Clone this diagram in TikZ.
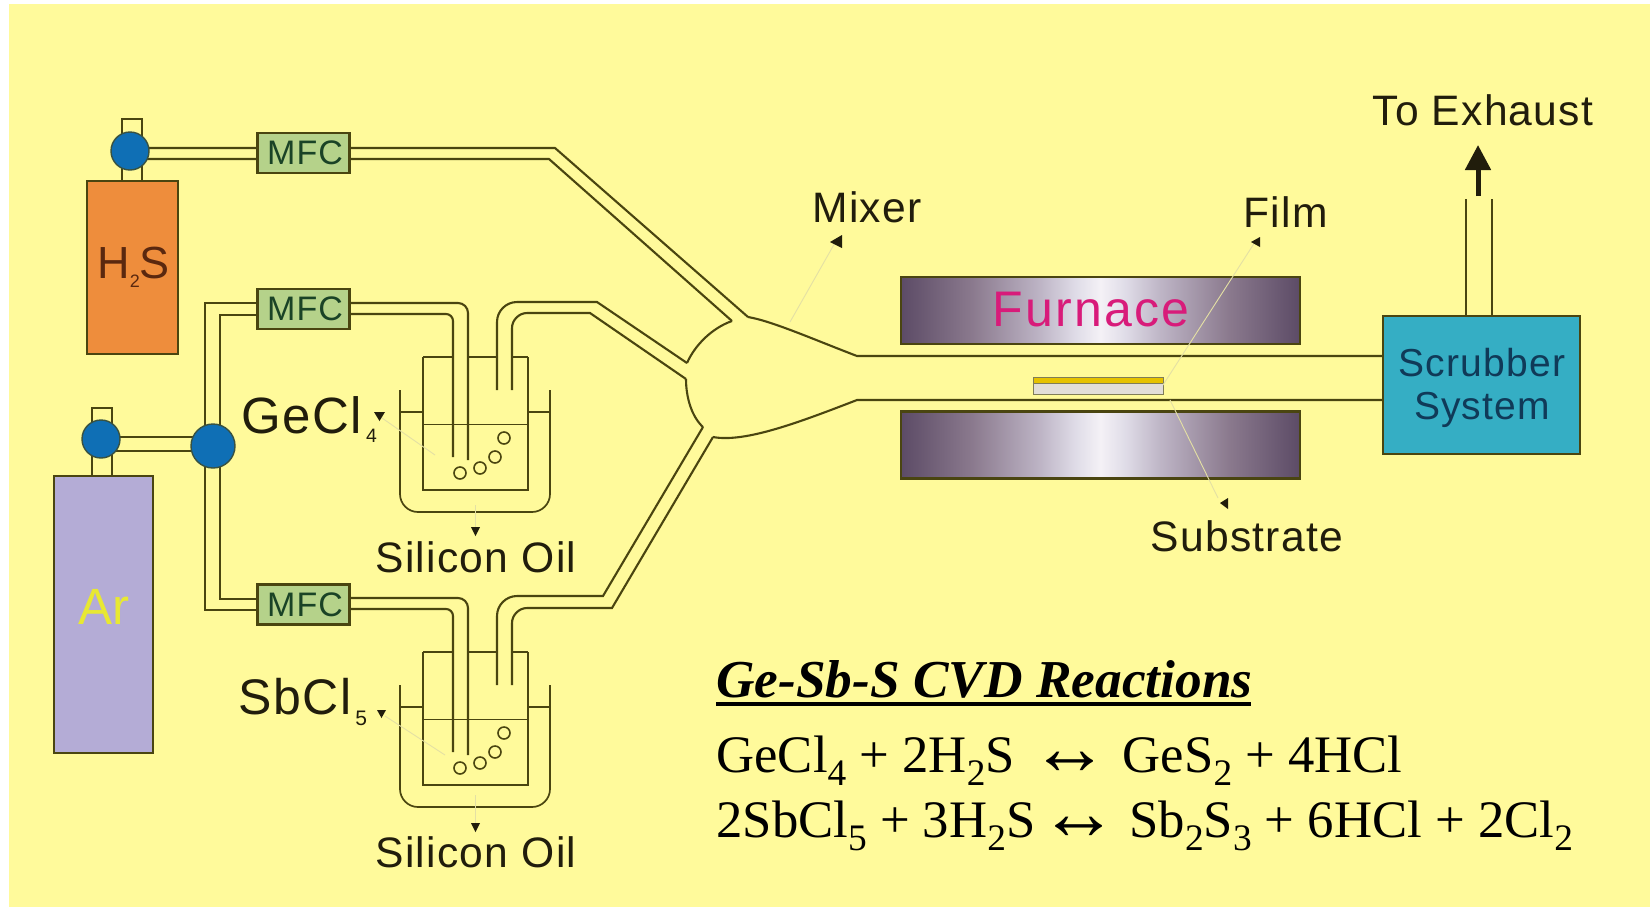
\documentclass[tikz,border=0pt]{standalone}
\usepackage{fontspec}
\usetikzlibrary{arrows.meta}
\setmainfont{Liberation Serif}
\newfontfamily\lab[LetterSpace=3]{Liberation Sans}
\definecolor{bgy}{HTML}{FFFA9B}
\definecolor{pipec}{HTML}{4A4510}
\definecolor{bluev}{HTML}{0F6FB5}
\definecolor{mfcf}{HTML}{B5D28A}
\definecolor{mfct}{HTML}{1A4326}
\definecolor{orng}{HTML}{EE8D3C}
\definecolor{lilac}{HTML}{B4ACD6}
\definecolor{scr}{HTML}{35AEC4}
\definecolor{scrt}{HTML}{103A58}
\definecolor{txtd}{HTML}{211D0C}
\definecolor{leader}{HTML}{E4E0A4}
\definecolor{fa}{HTML}{5C4B66}
\definecolor{fb}{HTML}{8B7A8E}
\definecolor{fm}{HTML}{BEB5C6}
\definecolor{fc}{HTML}{E0DDE8}
\definecolor{fd}{HTML}{F4F1F6}
\pgfdeclarehorizontalshading{furnshade}{100bp}{color(0bp)=(fa);color(25bp)=(fa);color(34bp)=(fb);color(42.5bp)=(fm);color(47bp)=(fc);color(50bp)=(fd);color(53bp)=(fc);color(57.5bp)=(fm);color(66bp)=(fb);color(75bp)=(fa);color(100bp)=(fa)}
\newcommand{\lsub}[3]{\raisebox{-#2pt}{\fontsize{#3}{#3}\selectfont #1}}
\newcommand{\rsub}[1]{\smash{\raisebox{-6.5pt}{\fontsize{18.7}{20}\selectfont #1}}}
\newcommand{\rarrow}{\smash{\raisebox{-1pt}{\scalebox{1.5}{↔}}}}
\tikzset{
  pipe/.style={draw=pipec,line width=1.05pt},
  thinpipe/.style={draw=pipec,line width=.85pt},
  valve/.style={circle,draw=pipec!70!bluev,line width=.7pt,fill=bluev,inner sep=0pt},
  mfcbox/.style={draw=pipec,line width=1.05pt,fill=mfcf,inner sep=0pt,minimum width=46pt,minimum height=20pt,text=mfct,font=\lab\fontsize{17}{19}\selectfont},
  cyl/.style={draw=pipec,line width=1.05pt,inner sep=0pt},
  furn/.style={draw=pipec,line width=1.05pt,shading=furnshade,inner sep=0pt,minimum width=199.5pt,minimum height=33.5pt},
  lbl/.style={anchor=base west,inner sep=0pt,text=txtd,font=\lab\fontsize{21.3}{24}\selectfont},
  leaderline/.style={draw=leader,line width=.45pt},
  leadertip/.style={fill=txtd},
  rx/.style={anchor=base west,inner sep=0pt,text=black,font=\fontsize{26.35}{30}\selectfont},
}
\begin{document}
\begin{tikzpicture}[x=.5pt,y=-.5pt]
\useasboundingbox (0,0) rectangle (1650,907);
\fill[white] (0,0) rectangle (1650,907);
\fill[bgy] (9,4) rectangle (1650,907);

% gas lines
\draw[pipe] (130,148) -- (555,148) -- (748,317);
\draw[pipe] (130,159) -- (549,159) -- (732,321);
\draw[pipe] (101,437) -- (213,437);
\draw[pipe] (101,451) -- (213,451);
\draw[pipe] (300,303) -- (205,303) -- (205,610) -- (300,610);
\draw[pipe] (300,315) -- (220,315) -- (220,599) -- (300,599);

% bubblers
\foreach \dy in {0,295}{
\begin{scope}[shift={(0,\dy)}]
  \draw[pipe,rounded corners=5pt] (300,303) -- (468,303) -- (468,460);
  \draw[pipe,rounded corners=3.5pt] (300,314) -- (453,314) -- (453,457);
  \draw[pipe] (423,357) -- (453,357) (468,357) -- (497,357) (512,357) -- (528,357);
  \draw[pipe] (423,357) -- (423,490) -- (528,490) -- (528,357);
  \draw[draw=pipec,line width=.5pt] (423,424) -- (528,424);
  \draw[thinpipe,rounded corners=9pt] (400,390) -- (400,512) -- (550,512) -- (550,390);
  \draw[thinpipe] (400,412) -- (423,412) (528,412) -- (550,412);
  \foreach \cx/\cy in {460/473,480/468,495/457,504/438}
    \draw[pipe,line width=.8pt] (\cx,\cy) circle (6);
\end{scope}
}
% bubbler outlets
\draw[pipe] (497,390) -- (497,322) .. controls (497,311) and (506,302) .. (517,302) -- (597,302) -- (687,363);
\draw[pipe] (512,390) -- (512,328) .. controls (512,320) and (519,313) .. (527,313) -- (590,313) -- (686,379);
\draw[pipe] (497,685) -- (497,616) .. controls (497,605) and (506,596) .. (517,596) -- (603,596) -- (703,427);
\draw[pipe] (512,685) -- (512,623) .. controls (512,615) and (519,608) .. (527,608) -- (612,608) -- (713,437);

% mixer and tube
\draw[pipe] (732,321) .. controls (712,328) and (695,345) .. (687,363);
\draw[pipe] (686,379) .. controls (686,398) and (692,417) .. (703,427);
\draw[pipe] (748,317) .. controls (772,321) and (815,340) .. (857,356) -- (1385,356);
\draw[pipe] (713,437) .. controls (745,443) and (800,422) .. (857,400) -- (1385,400);

% cylinders and necks
\draw[pipe] (122,181) -- (122,119) -- (142,119) -- (142,181);
\draw[pipe] (92,476) -- (92,408) -- (112,408) -- (112,476);
\node[cyl,fill=orng,minimum width=45.5pt,minimum height=86.5pt] (hcyl) at (132.5,267.5) {};
\node[cyl,fill=lilac,minimum width=49.5pt,minimum height=138.5pt] (arcyl) at (103.5,614.5) {};
\node[valve,minimum size=19pt] (hvalve) at (130,151) {};
\node[valve,minimum size=19pt] (arvalve) at (101,439) {};
\node[valve,minimum size=22pt] (hub) at (213,446) {};
\node[mfcbox] (mfcA) at (303.5,153) {\hspace{1.5pt}MFC};
\node[mfcbox] (mfcB) at (303.5,309) {\hspace{1.5pt}MFC};
\node[mfcbox] (mfcC) at (303.5,604.5) {\hspace{1.5pt}MFC};

% furnace, film, scrubber
\node[furn] (furnTop) at (1100.5,310.5) {};
\node[furn] (furnBot) at (1100.5,445) {};
\node[anchor=base west,inner sep=0pt,text={rgb,255:red,216;green,27;blue,122},font=\lab\addfontfeature{LetterSpace=4.5}\fontsize{25}{28}\selectfont] (furnText) at (992,326) {Furnace};
\node[draw=pipec!70!white,line width=.5pt,fill={rgb,255:red,230;green,194;blue,0},inner sep=0pt,minimum width=65pt,minimum height=3pt] (film) at (1098,380) {};
\node[draw=pipec!70!white,line width=.5pt,fill={rgb,255:red,226;green,222;blue,216},inner sep=0pt,minimum width=65pt,minimum height=5.5pt] (substrate) at (1098,388.5) {};
\draw[pipe] (1466,316) -- (1466,199);
\draw[pipe] (1492,316) -- (1492,199);
\node[draw=pipec,line width=1.05pt,fill=scr,inner sep=0pt,minimum width=98.5pt,minimum height=69pt,text=scrt] (scrubber) at (1481.5,385) {};
\node[anchor=center,inner sep=0pt,align=center,text=scrt,font=\lab\fontsize{19.5}{21.5}\selectfont] (scrText) at (1482,388) {Scrubber\\System};
\coordinate (exFrom) at (1478,196); \coordinate (exTo) at (1478,145);
\draw[line width=2.5pt,draw=txtd,-{Triangle[length=12.5pt,width=12.5pt,color=txtd]}] (exFrom) -- (exTo);

% label leaders
\coordinate (mixFrom) at (790,322); \coordinate (mixTo) at (836,241);
\coordinate (filmFrom) at (1163,385); \coordinate (filmTo) at (1255,242);
\coordinate (subFrom) at (1170,400); \coordinate (subTo) at (1218,498);
\coordinate (geFrom) at (435,455); \coordinate (geTo) at (382,418);
\coordinate (sbFrom) at (445,755); \coordinate (sbTo) at (385,716);
\coordinate (oilAFrom) at (475,505); \coordinate (oilATo) at (475,527);
\coordinate (oilBFrom) at (475,795); \coordinate (oilBTo) at (475,823);
\foreach \a/\b in {mixFrom/mixTo,filmFrom/filmTo,subFrom/subTo,geFrom/geTo,sbFrom/sbTo,oilAFrom/oilATo,oilBFrom/oilBTo}
  \draw[leaderline] (\a) -- (\b);
\fill[leadertip] (830,242) -- (842,235) -- (842,248) -- cycle;
\fill[leadertip] (1251,242) -- (1260,237) -- (1260,247) -- cycle;
\fill[leadertip] (1220,503) -- (1228,498) -- (1228,509) -- cycle;
\fill[leadertip] (374,412) -- (385,412) -- (379.5,421) -- cycle;
\fill[leadertip] (377,710) -- (386,710) -- (381.5,718) -- cycle;
\fill[leadertip] (471,527) -- (480,527) -- (475.5,536) -- cycle;
\fill[leadertip] (471,823) -- (480,823) -- (475.5,832) -- cycle;

% labels
\node[lbl] (toEx) at (1372,125) {To Exhaust};
\node[lbl] (mixer) at (812,222) {Mixer};
\node[lbl] (filmL) at (1243,227) {Film};
\node[lbl] (subL) at (1150,551) {Substrate};
\node[lbl] (oilA) at (375,572) {Silicon Oil};
\node[lbl] (oilB) at (375,867) {Silicon Oil};
\node[lbl,font=\lab\fontsize{25.5}{28}\selectfont] (ge) at (241,433) {GeCl\kern2pt\lsub{4}{4.5}{9.7}};
\node[lbl,font=\lab\fontsize{25}{28}\selectfont] (sb) at (238,714) {SbCl\kern2pt\lsub{5}{5.5}{10.5}};
\node[lbl,text={rgb,255:red,90;green,40;blue,15},font=\fontspec{Liberation Sans}\fontsize{22.5}{24}\selectfont] (h2s) at (97,278) {H\lsub{2}{4.5}{9}S};
\node[lbl,text={rgb,255:red,232;green,232;blue,50},font=\fontspec{Liberation Sans}\fontsize{25.5}{28}\selectfont] (ar) at (78,624) {Ar};

% reactions
\node[rx,font=\bfseries\itshape\fontsize{26.65}{30}\selectfont] (title) at (716,697) {Ge-Sb-S CVD Reactions};
\draw[line width=2.2pt,black] (716,704) -- (1251,704);
\node[rx] (rxA) at (716,772) {GeCl\rsub{4} + 2H\rsub{2}S\hspace{8pt}\rarrow\hspace{6.5pt}GeS\rsub{2} + 4HCl};
\node[rx] (rxB) at (716,837) {2SbCl\rsub{5} + 3H\rsub{2}S\hspace{2pt}\rarrow\hspace{5.5pt}Sb\rsub{2}S\rsub{3} + 6HCl + 2Cl\rsub{2}};
\end{tikzpicture}
\end{document}
